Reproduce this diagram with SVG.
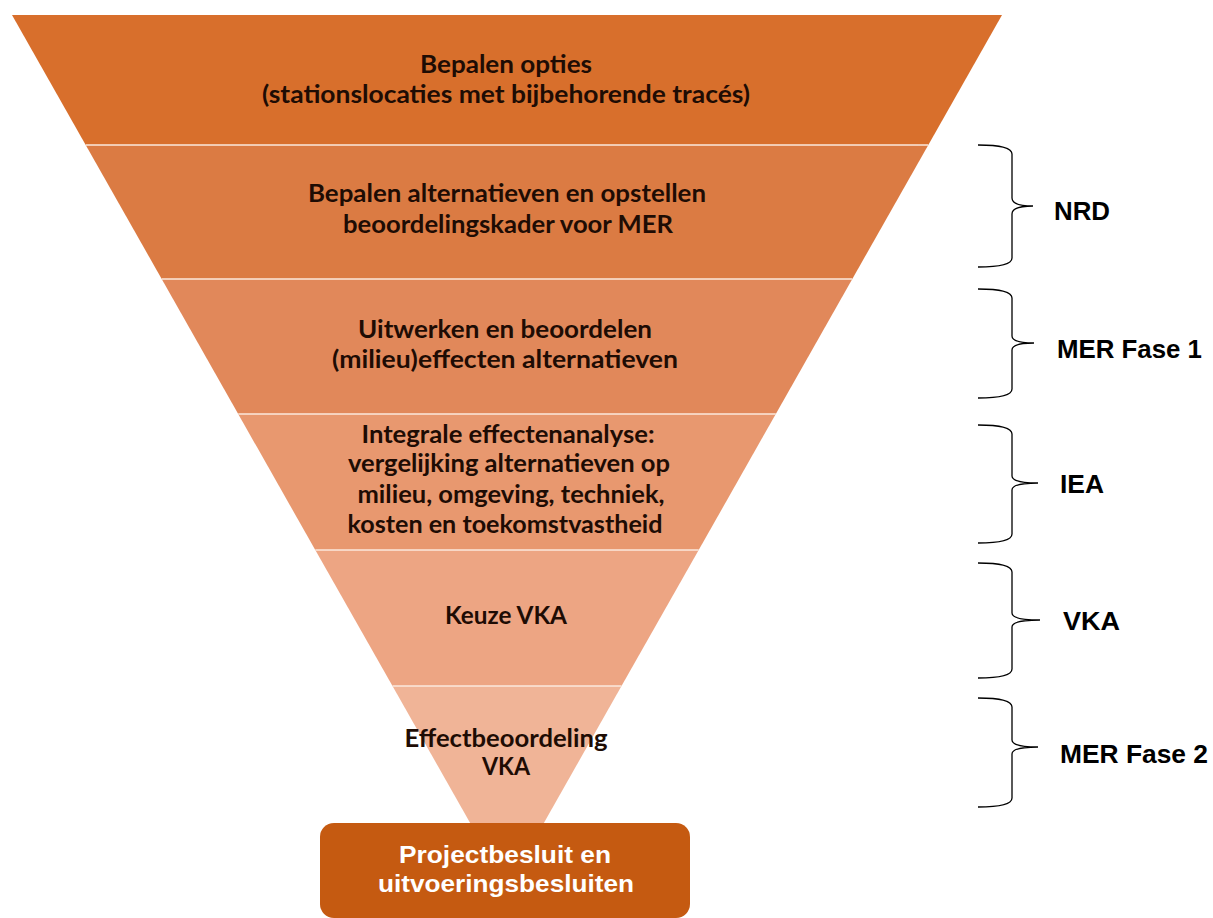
<svg xmlns="http://www.w3.org/2000/svg" width="1213" height="918" viewBox="0 0 1213 918">
<style>
.band{stroke:none}
.sep{stroke:#fbe9dc;stroke-width:1.5}
.t{font-family:Lato,"Open Sans","Liberation Sans",sans-serif;font-weight:bold;font-size:24.5px;fill:#1e0c04;text-anchor:middle}
.lbl{font-family:"Liberation Sans",Arial,sans-serif;font-weight:bold;font-size:25px;fill:#000}
.brace{fill:none;stroke:#000;stroke-width:1.3}
.bt{font-family:"Liberation Sans",Arial,sans-serif;font-weight:bold;font-size:24px;fill:#fff;text-anchor:middle}
</style>
<rect width="1213" height="918" fill="#fff"/>
<g id="band1"><polygon class="band" fill="#d86f2c" points="12,15 1002,15 928.3,145 85.7,145"/>
<text class="t" x="506" y="73" textLength="172" lengthAdjust="spacingAndGlyphs">Bepalen opties</text>
<text class="t" x="506" y="103" textLength="488" lengthAdjust="spacingAndGlyphs">(stationslocaties met bijbehorende tracés)</text></g>
<g id="band2"><polygon class="band" fill="#db7b43" points="85.7,145 928.3,145 852.3,279 161.7,279"/>
<text class="t" x="507" y="202" textLength="398" lengthAdjust="spacingAndGlyphs">Bepalen alternatieven en opstellen</text>
<text class="t" x="508" y="233" textLength="330" lengthAdjust="spacingAndGlyphs">beoordelingskader voor MER</text></g>
<g id="band3"><polygon class="band" fill="#e1885a" points="161.7,279 852.3,279 775.8,414 238.2,414"/>
<text class="t" x="505" y="338" textLength="294" lengthAdjust="spacingAndGlyphs">Uitwerken en beoordelen</text>
<text class="t" x="505" y="368" textLength="346" lengthAdjust="spacingAndGlyphs">(milieu)effecten alternatieven</text></g>
<g id="band4"><polygon class="band" fill="#e8986f" points="238.2,414 775.8,414 698.7,550 315.3,550"/>
<text class="t" x="508" y="443" textLength="293" lengthAdjust="spacingAndGlyphs">Integrale effectenanalyse:</text>
<text class="t" x="509" y="472" textLength="322" lengthAdjust="spacingAndGlyphs">vergelijking alternatieven op</text>
<text class="t" x="511" y="503" textLength="307" lengthAdjust="spacingAndGlyphs">milieu, omgeving, techniek,</text>
<text class="t" x="505" y="533" textLength="315" lengthAdjust="spacingAndGlyphs">kosten en toekomstvastheid</text></g>
<g id="band5"><polygon class="band" fill="#eda583" points="315.3,550 698.7,550 621.5,686 392.5,686"/>
<text class="t" x="506" y="624" textLength="122" lengthAdjust="spacingAndGlyphs">Keuze VKA</text></g>
<g id="band6"><polygon class="band" fill="#f0b497" points="392.5,686 621.5,686 507,888"/>
<text class="t" x="506" y="747" textLength="203" lengthAdjust="spacingAndGlyphs">Effectbeoordeling</text>
<text class="t" x="506" y="775" textLength="48" lengthAdjust="spacingAndGlyphs">VKA</text></g>
<g id="separators">
<line class="sep" x1="85.7" y1="145" x2="928.3" y2="145"/>
<line class="sep" x1="161.7" y1="279" x2="852.3" y2="279"/>
<line class="sep" x1="238.2" y1="414" x2="775.8" y2="414"/>
<line class="sep" x1="315.3" y1="550" x2="698.7" y2="550"/>
<line class="sep" x1="392.5" y1="686" x2="621.5" y2="686"/>
</g>
<g id="decision"><rect x="320" y="823" width="370" height="95" rx="14" fill="#c55a11"/>
<text class="bt" x="505" y="863" textLength="212" lengthAdjust="spacingAndGlyphs">Projectbesluit en</text>
<text class="bt" x="506" y="892" textLength="256" lengthAdjust="spacingAndGlyphs">uitvoeringsbesluiten</text></g>
<g id="connectors">
<path class="brace" d="M978,145 Q1012,145 1012,154 L1012,198 Q1012,206 1033,206 Q1012,206 1012,214 L1012,258 Q1012,267 978,267"/>
<path class="brace" d="M978,289 Q1012,289 1012,298 L1012,336 Q1012,343 1034,343 Q1012,343 1012,350 L1012,389 Q1012,398 978,398"/>
<path class="brace" d="M978,425 Q1012,425 1012,434 L1012,476 Q1012,483 1038,483 Q1012,483 1012,490 L1012,534 Q1012,543 978,543"/>
<path class="brace" d="M978,563 Q1012,563 1012,572 L1012,613 Q1012,620 1040,620 Q1012,620 1012,627 L1012,669 Q1012,678 978,678"/>
<path class="brace" d="M978,698 Q1012,698 1012,707 L1012,740 Q1012,747 1038,747 Q1012,747 1012,754 L1012,798 Q1012,807 978,807"/>
</g>
<g id="labels">
<text class="lbl" x="1054" y="220" textLength="56" lengthAdjust="spacingAndGlyphs">NRD</text>
<text class="lbl" x="1057" y="358" textLength="145" lengthAdjust="spacingAndGlyphs">MER Fase 1</text>
<text class="lbl" x="1060" y="493" textLength="44" lengthAdjust="spacingAndGlyphs">IEA</text>
<text class="lbl" x="1063" y="630" textLength="57" lengthAdjust="spacingAndGlyphs">VKA</text>
<text class="lbl" x="1060" y="763" textLength="148" lengthAdjust="spacingAndGlyphs">MER Fase 2</text>
</g>
</svg>
